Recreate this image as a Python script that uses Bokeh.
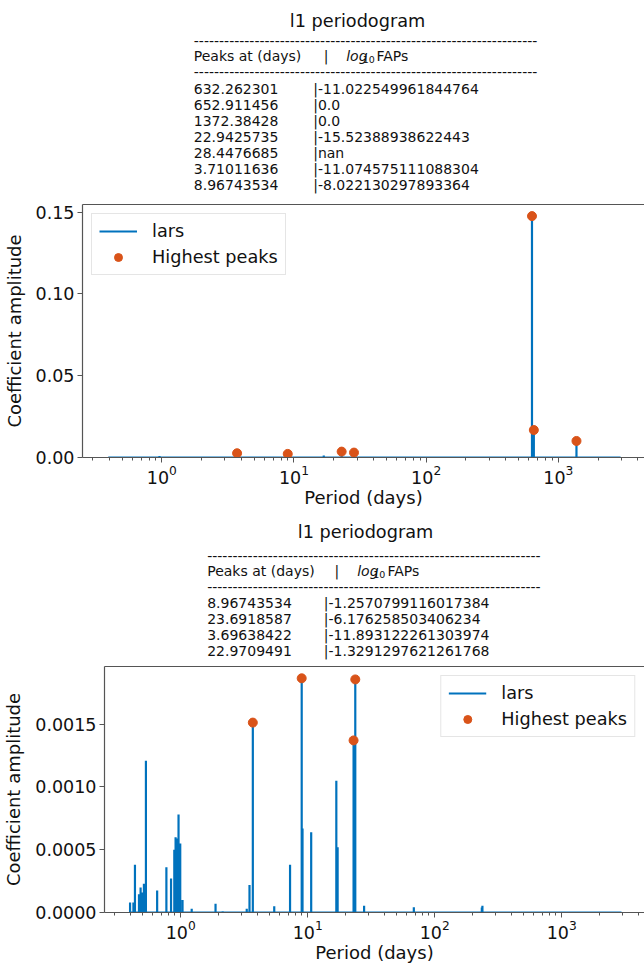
import numpy as np
from bokeh.plotting import figure
from bokeh.models import (Range1d, Legend, LegendItem,
                          SingleIntervalTicker, NumeralTickFormatter, LogAxis,
                          FixedTicker)
from bokeh.layouts import column
from bokeh.embed import file_html
from bokeh.resources import INLINE
from bokeh.core.properties import value

FONT = "DejaVu Sans"
BLUE = "#0072BD"
ORANGE = "#D95319"
SPINE = "#555555"
TXT = "#111111"

title_text = "l1 periodogram"
header_left = "Peaks at (days)"
x_label = "Period (days)"
y_label = "Coefficient amplitude"

# ---------------- panel 1 data ----------------
p1_spike_periods = [0.53, 0.96, 1.0, 3.71011636, 8.96743534, 10.7, 16.8,
                    22.9425735, 28.4476685, 632.262301, 642.0, 652.911456,
                    1372.38428]
p1_spike_amps = [0.0005, 0.0009, 0.0006, 0.0025, 0.0021, 0.0006, 0.0012,
                 0.0035, 0.0029, 0.1476, 0.0160, 0.0168, 0.0101]
p1_peak_periods = [632.262301, 652.911456, 1372.38428, 22.9425735,
                   28.4476685, 3.71011636, 8.96743534]
p1_peak_amps = [0.1476, 0.0168, 0.0101, 0.0036, 0.0030, 0.0026, 0.0022]
p1_peak_labels = ["632.262301", "652.911456", "1372.38428", "22.9425735",
                  "28.4476685", "3.71011636", "8.96743534"]
p1_fap_labels = ["-11.022549961844764", "0.0", "0.0", "-15.52388938622443",
                 "nan", "-11.074575111088304", "-8.022130297893364"]

# ---------------- panel 2 data ----------------
p2_spike_periods = [0.399, 0.424, 0.436, 0.469, 0.483, 0.495, 0.513, 0.532,
                    0.652, 0.771, 0.839, 0.890, 0.911, 0.934, 0.961, 0.991,
                    1.033, 1.22, 1.88, 2.14, 3.31, 3.48, 3.69638422, 5.45,
                    7.26, 8.96743534, 9.1, 10.65, 16.8, 17.2, 22.9709491,
                    23.3, 23.6918587, 27.8, 68.5, 235.0, 237.6]
p2_spike_amps = [0.00008, 0.00008, 0.00038, 0.000145, 0.0002, 0.00016,
                 0.00023, 0.00121, 0.000176, 0.00036, 0.00027, 0.0005,
                 0.0006, 0.00059, 0.00078, 0.00055, 0.0001, 0.00003,
                 0.00007, 0.00001, 0.00003, 0.00022, 0.001513, 0.00005,
                 0.00038, 0.001866, 0.00067, 0.00064, 0.00105, 0.00052,
                 0.001371, 0.0014, 0.001857, 0.000054, 0.000042, 0.00004,
                 0.000054]
p2_peak_periods = [8.96743534, 23.6918587, 3.69638422, 22.9709491]
p2_peak_amps = [0.001866, 0.001857, 0.001513, 0.001371]
p2_peak_labels = ["8.96743534", "23.6918587", "3.69638422", "22.9709491"]
p2_fap_labels = ["-1.2570799116017384", "-6.176258503406234",
                 "-11.893122261303974", "-1.3291297621261768"]

period_min, period_max = 0.393, 2960.0


def spike_line(periods, amps, pmin, pmax):
    order = np.argsort(periods)
    xs, ys = [pmin], [0.0]
    for i in order:
        xs += [periods[i]] * 3
        ys += [0.0, amps[i], 0.0]
    xs.append(pmax)
    ys.append(0.0)
    return xs, ys


W = 644


def table_fig(top, bottom, title_x, title_y, dash_y1, head_y, dash_y2,
              row_y0, row_dy, col1_x, bar_x, head_bar_x, log_x, sub_x,
              faps_x, dash_n, peaks, faps):
    f = figure(width=W, height=bottom - top, output_backend="svg",
               toolbar_location=None, x_range=Range1d(0, W),
               y_range=Range1d(bottom, top), min_border=0,
               x_axis_location=None, y_axis_location=None)
    f.frame_align = False
    f.grid.visible = False
    f.outline_line_color = None
    common = dict(text_font=value(FONT), text_baseline="middle",
                  text_color=TXT)
    f.text(x=[title_x], y=[title_y], text=[title_text], text_align="center",
           text_font_size="17.7px", **common)
    dashes = "-" * dash_n
    f.text(x=[col1_x, col1_x], y=[dash_y1, dash_y2], text=[dashes, dashes],
           text_align="left", text_font_size="14px", **common)
    f.text(x=[col1_x, head_bar_x, faps_x], y=[head_y] * 3,
           text=[header_left, "|", "FAPs"], text_align="left",
           text_font_size="14px", **common)
    f.text(x=[log_x], y=[head_y], text=["log"], text_align="left",
           text_font_size="14px", text_font_style="italic", **common)
    f.text(x=[sub_x], y=[head_y + 3.5], text=["10"], text_align="left",
           text_font_size="9.5px", **common)
    ys = [row_y0 + row_dy * i for i in range(len(peaks))]
    f.text(x=[col1_x] * len(peaks), y=ys, text=peaks, text_align="left",
           text_font_size="14px", **common)
    f.text(x=[bar_x] * len(peaks), y=ys, text=["|" + s for s in faps],
           text_align="left", text_font_size="14px", **common)
    return f


def plot_fig(height, border_left, border_top, y_end, y_interval, y_fmt,
             spikes_p, spikes_a, peaks_p, peaks_a, legend_loc):
    p = figure(width=W, height=height, output_backend="svg",
               toolbar_location=None, x_axis_type="log",
               x_range=Range1d(0.251, 4490), y_range=Range1d(0, y_end),
               min_border_left=border_left, min_border_right=0,
               min_border_top=border_top, min_border_bottom=10)
    p.frame_align = False
    p.grid.visible = False
    p.outline_line_color = None
    xs, ys = spike_line(spikes_p, spikes_a, period_min, period_max)
    r_line = p.line(x=xs, y=ys, line_color=BLUE, line_width=2.2)
    r_dots = p.scatter(x=peaks_p, y=peaks_a, size=9, marker="circle",
                       fill_color=ORANGE, line_color=ORANGE)
    for ax in (p.xaxis[0], p.yaxis[0]):
        ax.axis_line_color = SPINE
        ax.axis_line_width = 1.2
        ax.major_tick_line_color = SPINE
        ax.minor_tick_line_color = SPINE
        ax.major_tick_in = 0
        ax.major_tick_out = 5
        ax.minor_tick_in = 0
        ax.major_label_text_font = FONT
        ax.major_label_text_font_size = "17.5px"
        ax.major_label_text_color = TXT
        ax.axis_label_text_font = FONT
        ax.axis_label_text_font_size = "18px"
        ax.axis_label_text_font_style = "normal"
        ax.axis_label_text_color = TXT
    p.xaxis[0].minor_tick_out = 3
    p.xaxis[0].major_label_standoff = 2
    p.xaxis[0].axis_label_standoff = 0
    p.xaxis[0].axis_label = x_label
    p.yaxis[0].minor_tick_out = 0
    p.yaxis[0].major_label_standoff = 3
    p.yaxis[0].axis_label_standoff = 8
    p.yaxis[0].axis_label = y_label
    p.yaxis[0].ticker = SingleIntervalTicker(interval=y_interval,
                                             num_minor_ticks=0)
    p.yaxis[0].formatter = NumeralTickFormatter(format=y_fmt)
    top_ax = LogAxis(ticker=FixedTicker(ticks=[]), major_tick_out=0,
                     minor_tick_out=0, major_label_text_font_size="0px",
                     axis_line_color=SPINE, axis_line_width=1.2)
    p.add_layout(top_ax, "above")
    legend = Legend(items=[LegendItem(label="lars", renderers=[r_line]),
                           LegendItem(label="Highest peaks",
                                      renderers=[r_dots])],
                    location=legend_loc)
    legend.label_text_font = FONT
    legend.label_text_font_size = "17.7px"
    legend.label_text_color = TXT
    legend.border_line_color = "#cccccc"
    legend.border_line_width = 1
    legend.padding = 7
    legend.spacing = 6
    legend.glyph_width = 38
    legend.glyph_height = 20
    legend.label_height = 20
    legend.label_standoff = 15
    legend.margin = 9
    p.add_layout(legend)
    return p


t1 = table_fig(0, 196, 357, 20, 40.7, 55, 71.7, 88.3, 16.1, 193.3, 312.7,
               323.3, 345.7, 362.2, 376, 68, p1_peak_labels, p1_fap_labels)
f1 = plot_fig(314, 78, 8, 0.1547, 0.05, "0.00", p1_spike_periods,
              p1_spike_amps, p1_peak_periods, p1_peak_amps, "top_left")
t2 = table_fig(510, 660, 365, 531.7, 555.7, 570, 586, 602.3, 16.0, 206.7,
               323.3, 334, 356.7, 372.8, 387, 66, p2_peak_labels,
               p2_fap_labels)
f2 = plot_fig(305, 99, 6, 0.00196, 0.0005, "0.0000", p2_spike_periods,
              p2_spike_amps, p2_peak_periods, p2_peak_amps, "top_right")

layout = column(t1, f1, t2, f2, spacing=0)
open("out.html", "w").write(file_html(layout, INLINE))
